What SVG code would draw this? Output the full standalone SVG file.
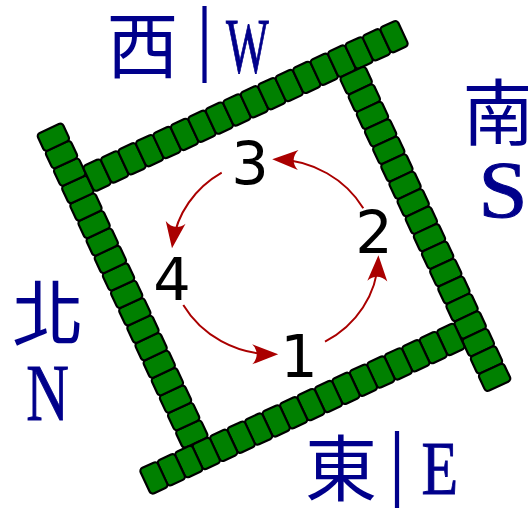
<svg xmlns="http://www.w3.org/2000/svg" xmlns:xlink="http://www.w3.org/1999/xlink" width="528" height="510" viewBox="0 0 528 510">
  <style>
    .tile { fill: #008000; stroke: #000; stroke-width: 2.2; }
    .cjk { font-family: "Noto Sans CJK TC", "Noto Sans CJK SC", sans-serif; font-size: 72px; fill: #00008b; text-anchor: middle; }
    .lat { font-family: "Liberation Serif", serif; fill: #00008b; stroke: #00008b; stroke-width: 1; }
    .bar { font-family: "Liberation Serif", serif; font-size: 85px; fill: #00008b; text-anchor: middle; }
    .num { font-family: "DejaVu Sans", sans-serif; font-size: 59px; fill: #000; text-anchor: middle; }
    .arc { fill: none; stroke: #aa0000; stroke-width: 2; }
  </style>
  <defs>
    <marker id="head" markerUnits="userSpaceOnUse" orient="auto" refX="0" refY="0" markerWidth="40" markerHeight="40" overflow="visible">
      <path d="M5,0 L-21,-10 C-15,-4 -15,4 -21,10 Z" fill="#aa0000"/>
    </marker>
    <g id="tiles">
      <rect class="tile" x="-135.15" y="-163.2" width="19.3" height="28" rx="3.5"/>
      <rect class="tile" x="-115.88" y="-163.2" width="19.3" height="28" rx="3.5"/>
      <rect class="tile" x="-96.61" y="-163.2" width="19.3" height="28" rx="3.5"/>
      <rect class="tile" x="-77.34" y="-163.2" width="19.3" height="28" rx="3.5"/>
      <rect class="tile" x="-58.07" y="-163.2" width="19.3" height="28" rx="3.5"/>
      <rect class="tile" x="-38.8" y="-163.2" width="19.3" height="28" rx="3.5"/>
      <rect class="tile" x="-19.53" y="-163.2" width="19.3" height="28" rx="3.5"/>
      <rect class="tile" x="-0.26" y="-163.2" width="19.3" height="28" rx="3.5"/>
      <rect class="tile" x="19.01" y="-163.2" width="19.3" height="28" rx="3.5"/>
      <rect class="tile" x="38.28" y="-163.2" width="19.3" height="28" rx="3.5"/>
      <rect class="tile" x="57.55" y="-163.2" width="19.3" height="28" rx="3.5"/>
      <rect class="tile" x="76.82" y="-163.2" width="19.3" height="28" rx="3.5"/>
      <rect class="tile" x="96.09" y="-163.2" width="19.3" height="28" rx="3.5"/>
      <rect class="tile" x="115.36" y="-163.2" width="19.3" height="28" rx="3.5"/>
      <rect class="tile" x="134.63" y="-163.2" width="19.3" height="28" rx="3.5"/>
      <rect class="tile" x="153.9" y="-163.2" width="19.3" height="28" rx="3.5"/>
      <rect class="tile" x="173.17" y="-163.2" width="19.3" height="28" rx="3.5"/>
      <rect class="tile" x="192.44" y="-163.2" width="19.3" height="28" rx="3.5"/>
    </g>
  </defs>

  <g transform="translate(274,257.3) rotate(-25)">
    <g id="wall-north"><use href="#tiles" xlink:href="#tiles" transform="rotate(270)"/></g>
    <g id="wall-west"><use href="#tiles" xlink:href="#tiles"/></g>
    <g id="wall-south"><use href="#tiles" xlink:href="#tiles" transform="rotate(90)"/></g>
    <g id="wall-east"><use href="#tiles" xlink:href="#tiles" transform="rotate(180)"/></g>
  </g>

  <g id="connectors">
    <path class="arc" d="M221.7,172.7 A103.3,97.5 0 0 0 172.7,243.2" marker-end="url(#head)"/>
    <path class="arc" d="M183.3,305 A103.3,97.5 0 0 0 273.2,354.3" marker-end="url(#head)"/>
    <path class="arc" d="M325,341.7 A103.3,97.5 0 0 0 378.2,260.2" marker-end="url(#head)"/>
    <path class="arc" d="M363.3,208.3 A103.3,97.5 0 0 0 277.2,159.3" marker-end="url(#head)"/>
  </g>

  <g id="n1"><text class="num" x="299" y="377">1</text></g>
  <g id="n2"><text class="num" x="374" y="253">2</text></g>
  <g id="n3"><text class="num" x="250" y="184">3</text></g>
  <g id="n4"><text class="num" x="172" y="300">4</text></g>

  <g id="label-west">
    <text class="cjk" x="142.5" y="72">西</text>
    <text class="bar" x="204.5" y="64.5">|</text>
    <text class="lat" x="226" y="72" font-size="78" textLength="42.8" lengthAdjust="spacingAndGlyphs">W</text>
  </g>
  <g id="label-south">
    <text class="cjk" x="498.5" y="139">南</text>
    <text class="lat" x="478.3" y="217" font-size="80" textLength="49.5" lengthAdjust="spacingAndGlyphs">S</text>
  </g>
  <g id="label-north">
    <text class="cjk" x="48" y="340">北</text>
    <text class="lat" x="26.3" y="420" font-size="80" textLength="42.6" lengthAdjust="spacingAndGlyphs">N</text>
  </g>
  <g id="label-east">
    <text class="cjk" x="341" y="495">東</text>
    <text class="bar" x="397" y="489.5">|</text>
    <text class="lat" x="421.5" y="494" font-size="77" textLength="36.6" lengthAdjust="spacingAndGlyphs">E</text>
  </g>
</svg>
